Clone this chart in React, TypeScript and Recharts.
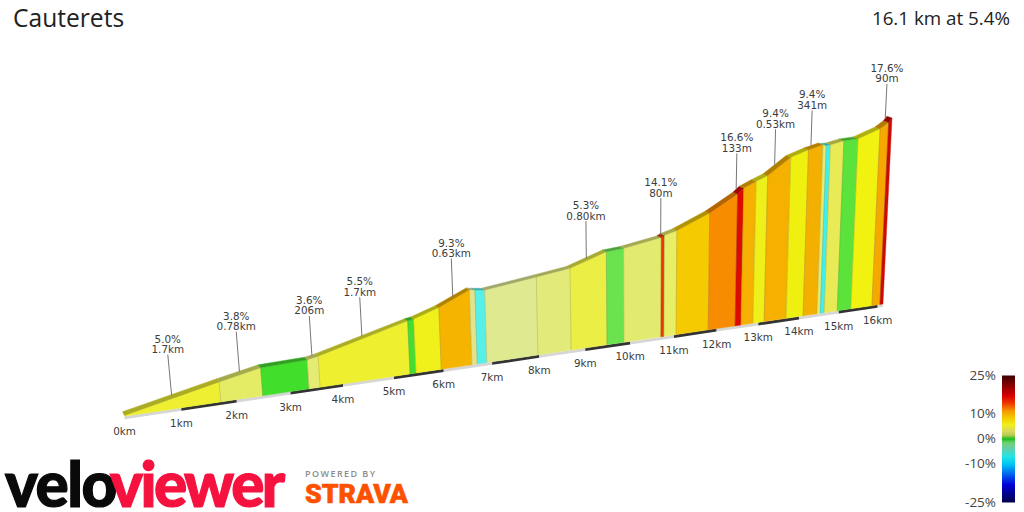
import React from "react";
import { ScatterChart, Scatter, XAxis, YAxis } from "recharts";

// ---- data ----
const breakKm = [0, 1.71, 2.48, 3.35, 3.56, 5.32, 5.44, 5.95, 6.58, 6.69, 6.89, 7.97, 8.69, 9.48, 9.86, 10.7, 10.77, 11.05, 11.8, 12.44, 12.58, 12.87, 13.14, 13.68, 14.1, 14.45, 14.53, 14.63, 14.96, 15.31, 15.85, 16.06, 16.14];
const elevationM = [3, 93, 130, 135, 144, 247, 251, 288, 349, 344, 337, 363, 381, 433, 437, 462, 470, 484, 544, 614, 637, 660, 679, 749, 772, 786, 781, 781, 791, 791, 823, 847, 865];
const segmentColors = ["#EDEF30", "#E4EC66", "#42DE2C", "#E6EB73", "#EEF02F", "#45DD30", "#F0F01A", "#F4B400", "#E3E48A", "#57F0E8", "#DFE98F", "#E2EA79", "#EAEE45", "#6BE34F", "#E2EB6F", "#E63A00", "#E8EE66", "#F5CA00", "#F78C00", "#DD0A00", "#F5B000", "#EFF01A", "#F5B000", "#F0F010", "#F4B000", "#E5EC70", "#3FF0EE", "#E8EB55", "#5CE33B", "#F2F210", "#F5A800", "#CE0A00"];
const kmTicks = [0, 1, 2, 3, 4, 5, 6, 7, 8, 9, 10, 11, 12, 13, 14, 15, 16];
const totalKm = 16.14;
const climbSegments = [0, 1, 3, 4, 7, 12, 15, 19, 22, 24, 31];
const climbGrades = ["5.0%", "3.8%", "3.6%", "5.5%", "9.3%", "5.3%", "14.1%", "16.6%", "9.4%", "9.4%", "17.6%"];
const climbLengths = ["1.7km", "0.78km", "206m", "1.7km", "0.63km", "0.80km", "80m", "133m", "0.53km", "341m", "90m"];
const legendTicks = [25, 10, 0, -10, -25];
const rampGrades = [25, 21, 17, 14, 11, 8, 5.5, 3, 1.5, 0, -1.5, -4, -7, -10, -14, -18, -25];
const rampColors = ["#3A0303", "#8A0000", "#D80000", "#EE3A00", "#F59A00", "#F2D000", "#F0EE20", "#D8D860", "#B8CC50", "#18C020", "#70D070", "#60D0B0", "#20E4E4", "#00C4F4", "#0060F0", "#0000D8", "#000048"];

// ---- oblique view of the profile ----
const alongRoad = (km: number) => 124.5 + (57.71 * km) / (1 + 0.01413 * km);
const groundY = (x: number) => 416.5 - 0.1478 * (x - 122);
const heightOf = (m: number) => m * 0.215;
const lean = (x: number, h: number) => (x - 640) * h * 2e-4;
type P = { x: number; y: number };
const groundPt = (km: number): P => {
  const x = alongRoad(km);
  return { x, y: groundY(x) };
};
const surfacePt = (km: number, m: number): P => {
  const g = groundPt(km);
  const h = heightOf(m);
  return { x: g.x + lean(g.x, h), y: g.y - h };
};
const farEdge = (p: P): P => ({
  x: p.x - (2 + (p.x - 122) * 0.004),
  y: p.y - Math.max(1.8, 3.8 - (p.x - 122) * 0.006),
});
const darken = (hex: string, f: number) => {
  const n = parseInt(hex.slice(1), 16);
  const c = [(n >> 16) & 255, (n >> 8) & 255, n & 255].map((v) => Math.round(v * f));
  return `rgb(${c[0]},${c[1]},${c[2]})`;
};

const segments = segmentColors.map((_, i) => {
  const a = surfacePt(breakKm[i], elevationM[i]);
  const b = surfacePt(breakKm[i + 1], elevationM[i + 1]);
  return {
    face: [groundPt(breakKm[i]), a, b, groundPt(breakKm[i + 1])],
    road: [a, b, farEdge(b), farEdge(a)],
    color: segmentColors[i],
  };
});

const dividers = breakKm.slice(1, -1).map((km, i) => [groundPt(km), surfacePt(km, elevationM[i + 1])]);

const strip = (from: number, to: number) => {
  const a = groundPt(from);
  const b = groundPt(to);
  return [a, b, { x: b.x, y: b.y + 3 }, { x: a.x, y: a.y + 3 }];
};
const stripes = kmTicks.map((k) => ({ pts: strip(k, k === 16 ? totalKm : k + 1), dark: k % 2 === 1 }));

const tickLabels = kmTicks.map((k) => {
  const g = groundPt(k);
  return { x: g.x, y: g.y + 15, text: `${k}km` };
});

const climbs = climbSegments.map((s) => {
  const [, a, b] = segments[s].face;
  const edge = farEdge({ x: (a.x + b.x) / 2, y: (a.y + b.y) / 2 });
  const foot = { x: edge.x + (edge.x < 700 ? 2 : 0), y: edge.y };
  const len = 41 - (foot.x - 122) * 0.0085;
  const head = { x: foot.x + lean(foot.x, len), y: foot.y - len };
  return { foot, head };
});
const climbText = climbs.flatMap((c, i) => [
  { x: c.head.x, y: c.head.y - 16, text: climbGrades[i] },
  { x: c.head.x, y: c.head.y - 5.5, text: climbLengths[i] },
]);

const LEG_X0 = 1002;
const LEG_X1 = 1015;
const legendY = (g: number) => 439 - 2.54 * g;
const legendBar = [
  { x: LEG_X0, y: legendY(25) },
  { x: LEG_X1, y: legendY(25) },
  { x: LEG_X1, y: legendY(-25) },
  { x: LEG_X0, y: legendY(-25) },
];
const legendLabels = legendTicks.map((g) => ({ x: 996, y: legendY(g) - 1, text: `${g}%` }));

// ---- drawing helpers ----
const noDot = () => <g />;
const polygonOf = (fill: string, stroke?: string) => (p: any) => (
  <polygon
    points={p.points.map((q: any) => `${q.x},${q.y}`).join(" ")}
    fill={fill}
    stroke={stroke ?? "none"}
    strokeWidth={stroke ? 0.4 : 0}
  />
);
const polylineOf = (stroke: string, width: number) => (p: any) => (
  <polyline
    points={p.points.map((q: any) => `${q.x},${q.y}`).join(" ")}
    fill="none"
    stroke={stroke}
    strokeWidth={width}
  />
);
const textOf = (style: any) => (p: any) => (
  <text x={p.cx} y={p.cy} dominantBaseline="central" {...style}>
    {p.payload.text}
  </text>
);
const Poly = (key: string, data: P[], line: any) => (
  <Scatter key={key} data={data} line={line} shape={noDot} isAnimationActive={false} />
);
const Txt = (key: string, data: any[], style: any) => (
  <Scatter key={key} data={data} shape={textOf(style)} isAnimationActive={false} />
);

const smallText = { fontFamily: "DejaVu Sans", fontSize: 10.4, fill: "#3c3c3c", textAnchor: "middle" };
const legendText = { fontFamily: "Open Sans", fontSize: 13.5, fill: "#444", textAnchor: "end" };

const rampBar = (p: any) => (
  <g>
    <defs>
      <linearGradient id="ramp" x1="0" y1="0" x2="0" y2="1">
        {rampGrades.map((g, i) => (
          <stop key={g} offset={(25 - g) / 50} stopColor={rampColors[i]} />
        ))}
      </linearGradient>
    </defs>
    <polygon points={p.points.map((q: any) => `${q.x},${q.y}`).join(" ")} fill="url(#ramp)" />
  </g>
);

export default function App() {
  return (
    <div style={{ position: "absolute", left: 0, top: 0, width: 1024, height: 512, background: "#fff" }}>
      <ScatterChart width={1024} height={512} margin={{ top: 0, right: 0, bottom: 0, left: 0 }}>
        <XAxis type="number" dataKey="x" domain={[0, 1024]} hide />
        <YAxis type="number" dataKey="y" domain={[0, 512]} reversed hide />
        {stripes.map((s, i) => Poly(`strip${i}`, s.pts, polygonOf(s.dark ? "#333333" : "#d6d6d6")))}
        {segments.map((s, i) => Poly(`face${i}`, s.face, polygonOf(s.color, s.color)))}
        {dividers.map((d, i) => Poly(`div${i}`, d, polylineOf("rgba(90,90,40,0.28)", 0.8)))}
        {segments.map((s, i) => Poly(`road${i}`, s.road, polygonOf(darken(s.color, 0.72), darken(s.color, 0.72))))}
        {climbs.map((c, i) => Poly(`lead${i}`, [c.foot, c.head], polylineOf("#777", 1)))}
        {Txt("climbText", climbText, smallText)}
        {Txt("ticks", tickLabels, smallText)}
        {Txt("title", [{ x: 13, y: 17.5, text: "Cauterets" }], { fontFamily: "Open Sans", fontSize: 24.6, fill: "#222" })}
        {Txt("summary", [{ x: 1010, y: 17.5, text: "16.1 km at 5.4%" }], { fontFamily: "Open Sans", fontSize: 18.8, fill: "#222", textAnchor: "end" })}
        {Poly("legendBar", legendBar, rampBar)}
        {Txt("legendLabels", legendLabels, legendText)}
        {Txt("velo", [{ x: 5, y: 483, text: "velo" }], { fontFamily: "Lato", fontWeight: 900, fontSize: 62, fill: "#0a0a0a", stroke: "#0a0a0a", strokeWidth: 1.2, letterSpacing: -1.5 })}
        {Txt("viewer", [{ x: 110, y: 483, text: "viewer" }], { fontFamily: "Lato", fontWeight: 900, fontSize: 62, fill: "#F5123F", stroke: "#F5123F", strokeWidth: 1.2, letterSpacing: -2.6 })}
        {Txt("powered", [{ x: 305, y: 473.5, text: "POWERED BY" }], { fontFamily: "Open Sans", fontWeight: 600, fontSize: 9, fill: "#8c8c8c", textLength: 70 })}
        {Txt("strava", [{ x: 305, y: 493.5, text: "STRAVA" }], { fontFamily: "Roboto", fontWeight: 900, fontSize: 26, fill: "#FC5200", stroke: "#FC5200", strokeWidth: 0.6, textLength: 103, lengthAdjust: "spacingAndGlyphs" })}
      </ScatterChart>
    </div>
  );
}
